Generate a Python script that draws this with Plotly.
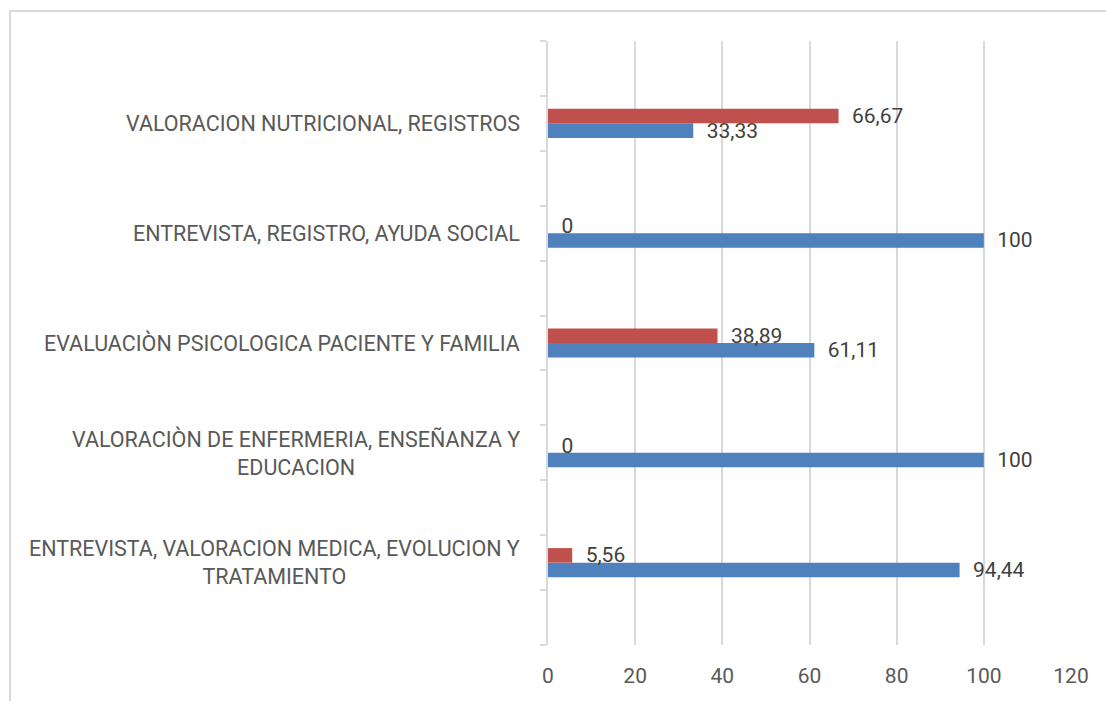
import plotly.graph_objects as go

# Categories (bottom to top, as in the reference)
categories = [
    "ENTREVISTA, VALORACION MEDICA, EVOLUCION Y<br>TRATAMIENTO",
    "VALORACIÒN DE ENFERMERIA, ENSEÑANZA Y<br>EDUCACION",
    "EVALUACIÒN PSICOLOGICA PACIENTE Y FAMILIA",
    "ENTREVISTA, REGISTRO, AYUDA SOCIAL",
    "VALORACION NUTRICIONAL, REGISTROS",
]
serie1_values = [94.44, 100, 61.11, 100, 33.33]   # blue
serie2_values = [5.56, 0, 38.89, 0, 66.67]        # red
x_ticks = [0, 20, 40, 60, 80, 100, 120]

# Empty category slots between the labelled rows (as in the source worksheet)
blanks = ["\u200b" * (i + 1) for i in range(6)]
category_order = []
for i, c in enumerate(categories):
    category_order.append(blanks[i])
    category_order.append(c)
category_order.append(blanks[5])


def fmt(v):
    return f"{v:g}".replace(".", ",")


FONT = "Roboto"
FS = 21
PAD = "\u00a0\u00a0"

fig = go.Figure()
fig.add_trace(go.Bar(
    name="Serie1", y=categories, x=serie1_values, orientation="h",
    marker=dict(color="#4F81BD", line=dict(width=0)),
    text=[PAD + fmt(v) for v in serie1_values], textposition="outside",
    constraintext="none",
    textfont=dict(family=FONT, size=FS, color="#404040"), cliponaxis=False,
))
fig.add_trace(go.Bar(
    name="Serie2", y=categories, x=serie2_values, orientation="h",
    marker=dict(color="#C0504D", line=dict(width=0)),
    text=[PAD + fmt(v) for v in serie2_values], textposition="outside",
    constraintext="none",
    textfont=dict(family=FONT, size=FS, color="#404040"), cliponaxis=False,
))

for c in categories:
    fig.add_annotation(
        x=0, xref="paper", y=c, yref="y", xanchor="right", xshift=-26,
        text=c, align="center", showarrow=False,
        font=dict(family=FONT, size=21.5, color="#595959"),
    )

W, H = 1106, 701
ml, mr, mt, mb = 548, 35, 41, 56
pw, ph = W - ml - mr, H - mt - mb

# chart-area border (top & left visible in the reference)
fig.add_shape(
    type="rect", xref="paper", yref="paper",
    x0=(10 - ml) / pw, x1=(W + 20 - ml) / pw,
    y0=-(H + 20 - (H - mb)) / ph, y1=1 + (mt - 11) / ph,
    line=dict(color="#d9d9d9", width=2), fillcolor="rgba(0,0,0,0)", layer="below",
)

fig.update_layout(
    width=W, height=H,
    margin=dict(l=ml, r=mr, t=mt, b=mb),
    paper_bgcolor="white", plot_bgcolor="white",
    barmode="group", bargap=0.47, bargroupgap=0,
    showlegend=False,
    font=dict(family=FONT, size=FS, color="#595959"),
    xaxis=dict(
        range=[0, 120], tickvals=x_ticks, ticktext=[str(t) for t in x_ticks],
        showgrid=True, gridcolor="#d9d9d9", gridwidth=1.5,
        zeroline=False, showline=False, ticks="",
        tickfont=dict(family=FONT, size=FS, color="#595959"),
        ticklabelstandoff=16,
    ),
    yaxis=dict(
        type="category", categoryorder="array", categoryarray=category_order,
        range=[-0.5, len(category_order) - 0.5],
        showticklabels=False, showgrid=False, zeroline=False,
        showline=True, linecolor="#d9d9d9", linewidth=1.5,
        ticks="outside", tickson="boundaries", ticklen=6,
        tickcolor="#d9d9d9", tickwidth=1.5,
    ),
)

fig.write_html(
    "out.html",
    config={"displayModeBar": False},
    post_script="document.body.style.margin='0px';document.body.style.padding='0px';",
)
